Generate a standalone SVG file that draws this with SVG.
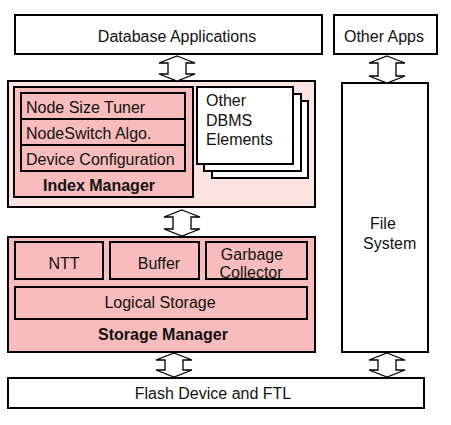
<svg xmlns="http://www.w3.org/2000/svg" width="451" height="425" viewBox="0 0 451 425">
<style>
.b{stroke:#000;stroke-width:2;}
.w{fill:#fff;}
.lp{fill:#fde2e2;}
.p{fill:#f8bcbc;}
text{font-family:"Liberation Sans",Arial,sans-serif;font-size:16px;fill:#111;}
.c{text-anchor:middle;}
.bd{font-weight:bold;}
.ar{fill:#fff;stroke:#000;stroke-width:1.3;stroke-linejoin:miter;}
</style>
<rect width="451" height="425" fill="#fff"/>
<g id="database-applications"><rect class="b w" x="15" y="15" width="307" height="39"/><text class="c" x="177" y="42">Database Applications</text></g>
<g id="other-apps"><rect class="b w" x="334" y="15" width="103" height="39"/><text class="c" x="384" y="42">Other Apps</text></g>
<g id="index-manager-area"><rect class="b lp" x="8" y="81" width="307" height="126"/></g>
<g id="index-manager"><rect class="b p" x="14" y="87" width="179" height="110"/>
<rect class="b p" x="21" y="93" width="164" height="26"/><text x="26" y="113">Node Size Tuner</text>
<rect class="b p" x="21" y="119" width="164" height="26"/><text x="26" y="139">NodeSwitch Algo.</text>
<rect class="b p" x="21" y="145" width="164" height="26"/><text x="26" y="165">Device Configuration</text>
<text class="c bd" x="99" y="191">Index Manager</text></g>
<g id="other-dbms-elements">
<rect class="b w" x="212" y="101" width="96" height="77"/>
<rect class="b w" x="204" y="94" width="97" height="77"/>
<rect class="b w" x="197" y="87" width="96" height="77"/>
<text x="206" y="106">Other</text><text x="206" y="126">DBMS</text><text x="206" y="145">Elements</text></g>
<g id="file-system"><rect class="b w" x="342" y="83" width="86" height="269"/><text x="370" y="229">File</text><text x="363" y="249">System</text></g>
<g id="storage-manager"><rect class="b p" x="8" y="237" width="307" height="115"/>
<rect class="b p" x="15" y="242" width="88" height="37"/><text class="c" x="64" y="269">NTT</text>
<rect class="b p" x="110" y="242" width="89" height="37"/><text class="c" x="159" y="269">Buffer</text>
<rect class="b p" x="206" y="242" width="101" height="37"/><text class="c" x="252" y="260">Garbage</text><text class="c" x="251" y="278">Collector</text>
<rect class="b p" x="15" y="287" width="292" height="32"/><text class="c" x="160" y="308">Logical Storage</text>
<text class="c bd" x="163" y="340">Storage Manager</text></g>
<g id="flash-device"><rect class="b w" x="8" y="378" width="416" height="30"/><text class="c" x="213" y="399">Flash Device and FTL</text></g>
<g id="connectors">
<path class="ar" d="M177,56 L195,63 L186,63 L186,74 L195,74 L177,81 L159,74 L168,74 L168,63 L159,63 Z"/>
<path class="ar" d="M387,56 L405,63 L396,63 L396,76 L405,76 L387,83 L369,76 L378,76 L378,63 L369,63 Z"/>
<path class="ar" d="M182,210 L200,217 L191,217 L191,229 L200,229 L182,236 L164,229 L173,229 L173,217 L164,217 Z"/>
<path class="ar" d="M174,353 L192,360 L183,360 L183,370 L192,370 L174,377 L156,370 L165,370 L165,360 L156,360 Z"/>
<path class="ar" d="M387,353 L405,360 L396,360 L396,370 L405,370 L387,377 L369,370 L378,370 L378,360 L369,360 Z"/>
</g>
</svg>
